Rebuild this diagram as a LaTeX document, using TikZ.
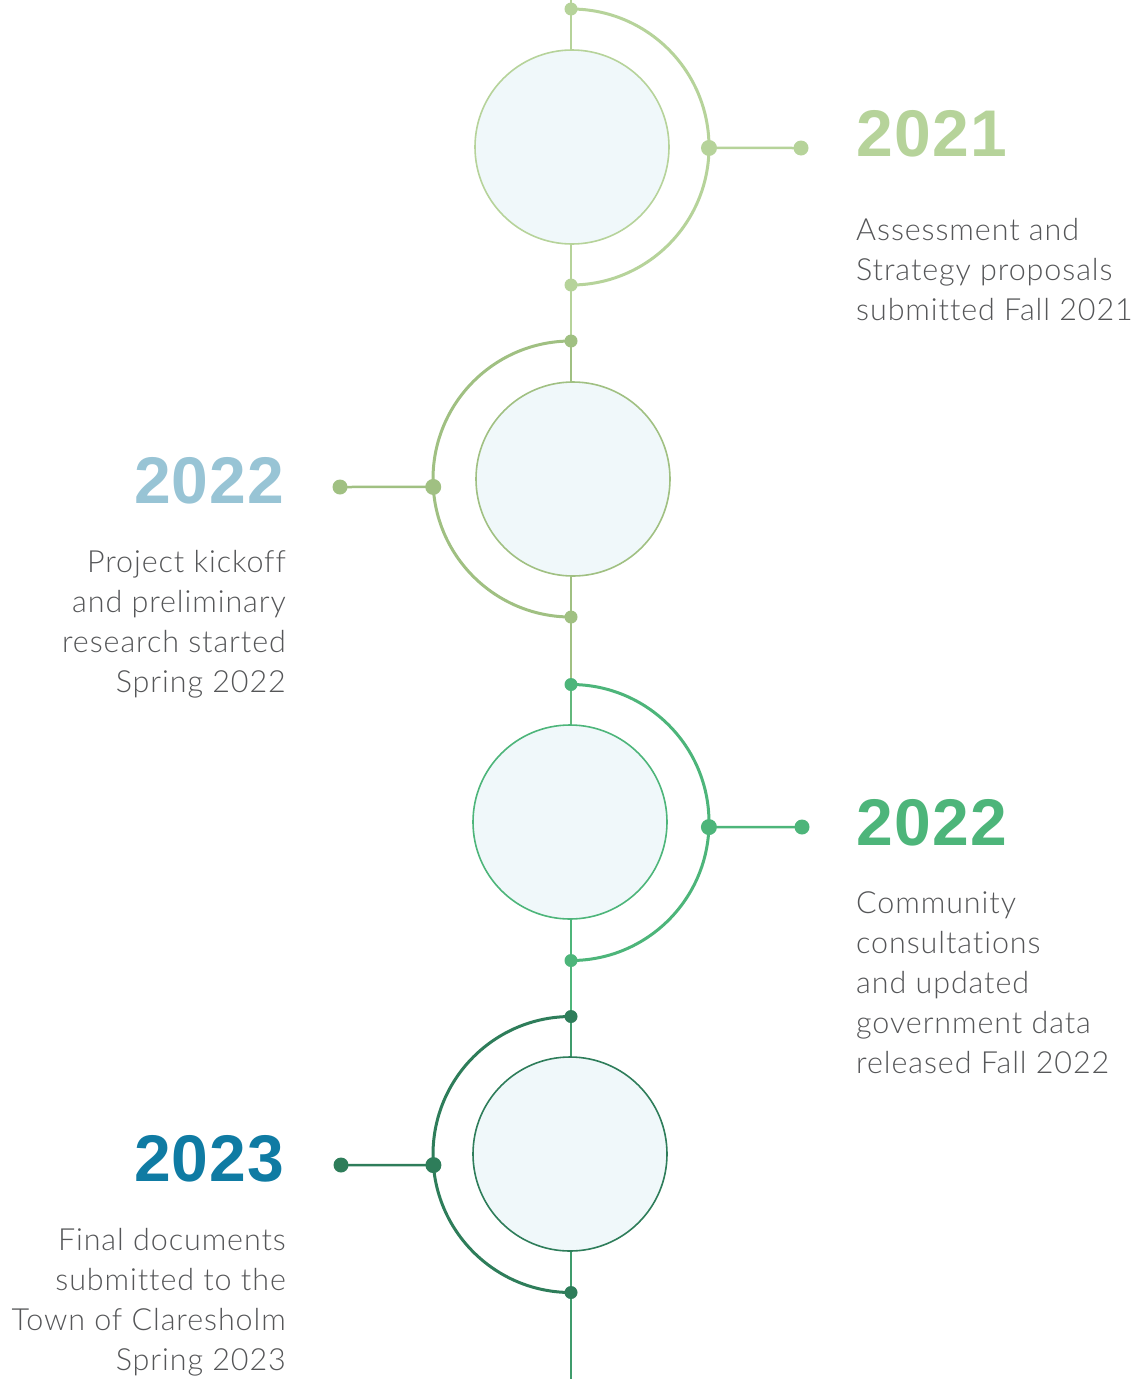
\documentclass[tikz,border=0pt]{standalone}
\usepackage{fontspec}
\setmainfont{Lato}
\newfontfamily\yearfont{Liberation Sans}[BoldFont=* Bold, LetterSpace=2]
\newfontfamily\notefont{Lato Light}[Ligatures=NoCommon, LetterSpace=3]
\usetikzlibrary{calc}

\definecolor{leaf}{HTML}{B6D39A}
\definecolor{sage}{HTML}{A0C082}
\definecolor{mint}{HTML}{4DB57A}
\definecolor{pine}{HTML}{2E7D5A}
\definecolor{sky}{HTML}{98C4D5}
\definecolor{ocean}{HTML}{0F7BA3}
\definecolor{ink}{HTML}{555658}
\definecolor{pale}{HTML}{F0F8FA}

\tikzset{
	stage/.style={circle, draw=#1, line width=1.6pt, fill=pale, minimum size=194pt, inner sep=0pt},
	ring/.style={#1, line width=3pt},
	spine/.style={#1, line width=2pt},
	dot/.style={fill=#1},
	year/.style={inner sep=0pt, text=#1, font=\yearfont\bfseries\fontsize{66}{66}\selectfont},
	note/.style={inner sep=0pt, text=ink, font=\notefont\fontsize{30.5}{40}\selectfont},
}

\begin{document}
\begin{tikzpicture}[x=1pt, y=1pt, line join=round, line cap=round]
			\useasboundingbox (0,0) rectangle (1132,-1379);
			\def\r{138}
			\path
			(571,-147) coordinate (A1)
			(571,-479) coordinate (A2)
			(571,-822.5) coordinate (A3)
			(571,-1154.5) coordinate (A4)
			(571,0) coordinate (top)
			(571,-1379) coordinate (bot)
			;
			% arc ends and side joints
			\path
			($(A1)+(90:\r)$) coordinate (t1) ($(A1)+(-90:\r)$) coordinate (b1) ($(A1)+(-0.4:\r)$) coordinate (s1) (801,-148) coordinate (e1)
			($(A2)+(90:\r)$) coordinate (t2) ($(A2)+(270:\r)$) coordinate (b2) ($(A2)+(183.3:\r)$) coordinate (s2) (340,-487) coordinate (e2)
			($(A3)+(90:\r)$) coordinate (t3) ($(A3)+(-90:\r)$) coordinate (b3) ($(A3)+(-1.9:\r)$) coordinate (s3) (802,-827) coordinate (e3)
			($(A4)+(90:\r)$) coordinate (t4) ($(A4)+(270:\r)$) coordinate (b4) ($(A4)+(184.4:\r)$) coordinate (s4) (341,-1165) coordinate (e4)
			;
			% the spine
			\draw[spine=leaf] (top) -- (b1) -- (t2);
			\draw[spine=sage] (t2) -- (b2) -- (t3);
			\draw[spine=mint!75!sage] (t3) -- (A3);
			\draw[spine=mint] (A3) -- (b3) -- (t4);
			\draw[spine=mint!55!pine] (t4) -- (bot);
			% the stages
			\node[stage=leaf] (S1) at (572,-147) {};
			\node[stage=sage] (S2) at (573,-479) {};
			\node[stage=mint] (S3) at (570,-822) {};
			\node[stage=pine] (S4) at (570,-1154) {};
			% rings round the stages
			\draw[ring=leaf] (t1) arc[start angle=90, end angle=-90, radius=\r];
			\draw[ring=sage] (t2) arc[start angle=90, end angle=270, radius=\r];
			\draw[ring=mint] (t3) arc[start angle=90, end angle=-90, radius=\r];
			\draw[ring=pine] (t4) arc[start angle=90, end angle=270, radius=\r];
			\draw[spine=leaf, line width=2.5pt] (s1) -- (e1);
			\draw[spine=sage, line width=2.5pt] (s2) -- (e2);
			\draw[spine=mint, line width=2.5pt] (s3) -- (e3);
			\draw[spine=pine, line width=2.5pt] (s4) -- (e4);
			\fill[dot=leaf] (t1) circle (6.5) (b1) circle (6.5) (s1) circle (8) (e1) circle (7.5);
			\fill[dot=sage] (t2) circle (6.5) (b2) circle (6.5) (s2) circle (8) (e2) circle (7.5);
			\fill[dot=mint] (t3) circle (6.5) (b3) circle (6.5) (s3) circle (8) (e3) circle (7.5);
			\fill[dot=pine] (t4) circle (6.5) (b4) circle (6.5) (s4) circle (8) (e4) circle (7.5);
			% years and notes
			\node[year=leaf, anchor=base west] (Y1) at (856,-156) {2021};
			\node[note, anchor=north west, align=left] (N1) at (856,-218) {Assessment and\\Strategy proposals\\submitted Fall 2021};
			\node[year=sky, anchor=base east] (Y2) at (285,-503) {2022};
			\node[note, anchor=north east, align=right] (N2) at (286,-550) {Project kickoff\\and preliminary\\research started\\Spring 2022};
			\node[year=mint, anchor=base west] (Y3) at (856,-845) {2022};
			\node[note, anchor=north west, align=left] (N3) at (856,-891) {Community\\consultations\\and updated\\government data\\released Fall 2022};
			\node[year=ocean, anchor=base east] (Y4) at (285,-1181) {2023};
			\node[note, anchor=north east, align=right] (N4) at (286,-1228) {Final documents\\submitted to the\\Town of Claresholm\\Spring 2023};
		\end{tikzpicture}
\end{document}
